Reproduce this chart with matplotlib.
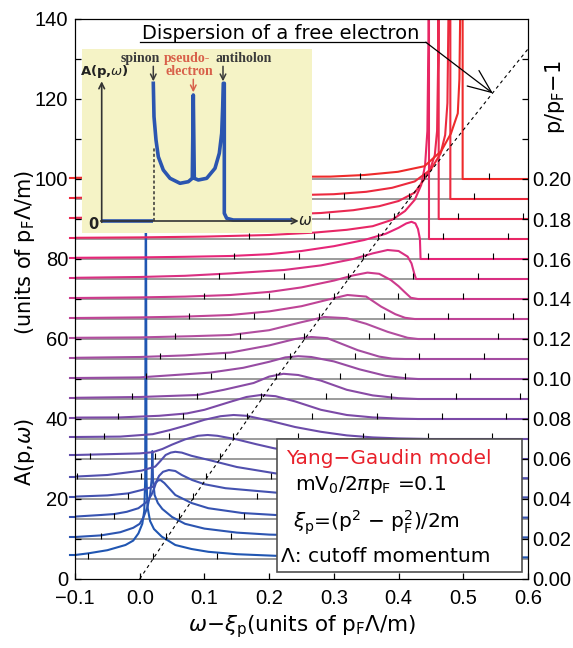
import matplotlib
matplotlib.use('Agg')
import matplotlib.pyplot as plt
import numpy as np
from matplotlib.colors import LinearSegmentedColormap
from matplotlib.patches import Rectangle

plt.rcParams['font.family'] = 'DejaVu Sans'
plt.rcParams['mathtext.fontset'] = 'dejavusans'

# p/pF - 1 of each curve and its vertical offset (A units)
delta = [0.01, 0.02, 0.03, 0.04, 0.05, 0.06, 0.07, 0.08, 0.09, 0.10,
         0.11, 0.12, 0.13, 0.14, 0.15, 0.16, 0.17, 0.18, 0.19, 0.20]
offset = [5, 10, 15, 20, 25, 30, 35, 40, 45, 50,
          55, 60, 65, 70, 75, 80, 85, 90, 95, 100]
# where the free-electron dispersion crosses each baseline
disp_x = [0.0201, 0.0404, 0.0609, 0.0816, 0.1025, 0.1236, 0.1449, 0.1664, 0.1881, 0.2100,
          0.2321, 0.2544, 0.2769, 0.2996, 0.3225, 0.3456, 0.3689, 0.3924, 0.4161, 0.4400]

# free electron dispersion (dashed)
free_x = [0.0, 0.1025, 0.21, 0.3225, 0.44, 0.5625, 0.60]
free_y = [0.0, 25.0, 50.0, 75.0, 100.0, 125.0, 132.5]

# spectral functions (x = w - xi_p, a = A above its baseline)
row01_x = [-0.1, -0.08, -0.05, -0.022, -0.01, -0.002, 0.004, 0.007, 0.0085, 0.0095, 0.0105, 0.012,
           0.016, 0.022, 0.034, 0.055, 0.08, 0.106, 0.15, 0.21, 0.3, 0.4, 0.5, 0.6]
row01_a = [1.0, 1.4, 2.2, 3.5, 4.6, 6.4, 8.8, 12, 20, 110, 20, 13,
           9.5, 7.5, 5.6, 3.5, 2.5, 1.8, 1.2, 0.8, 0.6, 0.5, 0.45, 0.4]
row02_x = [-0.1, -0.06, -0.03, -0.01, 0.0, 0.006, 0.012, 0.016, 0.0185, 0.0195, 0.0205, 0.023,
           0.028, 0.035, 0.05, 0.07, 0.1, 0.15, 0.2, 0.3, 0.45, 0.6]
row02_a = [0.5, 0.9, 1.7, 2.8, 3.8, 5.5, 8, 11, 15, 22, 15, 11,
           9, 7.5, 5.5, 3.8, 2.6, 1.6, 1.1, 0.7, 0.5, 0.4]
row03_x = [-0.1, -0.06, -0.039, -0.02, -0.002, 0.011, 0.018, 0.022, 0.025, 0.028, 0.032, 0.038,
           0.055, 0.08, 0.106, 0.158, 0.21, 0.3, 0.45, 0.6]
row03_a = [0.6, 1.0, 1.25, 1.8, 2.7, 4.3, 6.0, 7.5, 9.0, 9.6, 9.75, 9.0,
           6.0, 4.0, 2.7, 1.5, 1.0, 0.7, 0.45, 0.35]
row04_x = [-0.1, -0.05, -0.018, 0.003, 0.015, 0.021, 0.026, 0.03, 0.036, 0.045, 0.055, 0.065,
           0.081, 0.1, 0.1325, 0.21, 0.3, 0.45, 0.6]
row04_a = [0.6, 0.9, 1.4, 2.25, 2.8, 3.1, 4.5, 5.8, 6.8, 7.25, 7.0, 6.0,
           4.75, 3.7, 2.7, 1.6, 1.0, 0.6, 0.4]
row05_x = [-0.1, -0.05, 0.003, 0.024, 0.032, 0.04, 0.048, 0.055, 0.065, 0.08, 0.107, 0.15,
           0.21, 0.27, 0.35, 0.45, 0.6]
row05_a = [0.6, 1.0, 2.1, 3.1, 4.5, 6.0, 6.6, 6.8, 6.6, 5.8, 4.75, 3.0,
           1.4, 0.8, 0.5, 0.3, 0.2]
row06_x = [-0.1, -0.05, 0.0, 0.02, 0.035, 0.05, 0.07, 0.09, 0.105, 0.12, 0.15, 0.18,
           0.207, 0.25, 0.3, 0.35, 0.4, 0.5, 0.6]
row06_a = [1.0, 1.2, 1.4, 1.7, 2.5, 3.6, 4.9, 5.8, 6.0, 5.8, 4.9, 3.7,
           2.7, 1.5, 0.7, 0.3, 0.1, 0.0, 0.0]
row07_x = [-0.1, -0.03, 0.02, 0.047, 0.07, 0.1, 0.125, 0.145, 0.165, 0.2, 0.24, 0.28,
           0.32, 0.36, 0.4, 0.45, 0.6]
row07_a = [0.5, 0.6, 1.2, 2.25, 3.3, 4.8, 5.7, 6.0, 5.8, 4.6, 3.0, 1.8,
           0.9, 0.4, 0.15, 0.0, 0.0]
row08_x = [-0.1, -0.03, 0.03, 0.073, 0.1, 0.14, 0.165, 0.187, 0.21, 0.24, 0.28, 0.32,
           0.36, 0.4, 0.43, 0.6]
row08_a = [0.35, 0.4, 0.8, 1.4, 2.3, 4.3, 5.5, 6.0, 5.7, 4.4, 2.3, 1.0,
           0.4, 0.1, 0.0, 0.0]
row09_x = [-0.1, 0.0, 0.089, 0.13, 0.176, 0.2, 0.222, 0.245, 0.28, 0.32, 0.36, 0.4, 0.43, 0.6]
row09_a = [0.3, 0.5, 1.0, 2.3, 4.0, 5.6, 6.3, 6.0, 4.6, 2.3, 0.9, 0.2, 0.0, 0.0]
row10_x = [-0.1, 0.0, 0.109, 0.16, 0.2, 0.225, 0.245, 0.265, 0.3, 0.34, 0.38, 0.41, 0.43, 0.6]
row10_a = [0.25, 0.4, 1.6, 2.8, 4.3, 5.4, 5.7, 5.5, 4.4, 2.4, 0.8, 0.2, 0.0, 0.0]
row11_x = [-0.1, 0.0, 0.07, 0.14, 0.2, 0.24, 0.265, 0.29, 0.337, 0.37, 0.39, 0.41, 0.6]
row11_a = [0.3, 0.5, 0.9, 1.6, 3.4, 5.0, 5.5, 5.2, 2.2, 0.6, 0.1, 0.0, 0.0]
row12_x = [-0.1, 0.0, 0.08, 0.14, 0.2, 0.25, 0.285, 0.32, 0.35, 0.383, 0.414, 0.43, 0.6]
row12_a = [0.3, 0.4, 0.7, 1.0, 2.2, 4.2, 5.5, 5.2, 3.8, 1.8, 0.3, 0.0, 0.0]
row13_x = [-0.1, 0.0, 0.07, 0.14, 0.2, 0.25, 0.29, 0.321, 0.35, 0.373, 0.395, 0.41, 0.425, 0.6]
row13_a = [0.25, 0.4, 0.6, 1.0, 1.9, 3.2, 4.8, 6.0, 5.6, 3.1, 1.2, 0.3, 0.0, 0.0]
row14_x = [-0.1, 0.0, 0.07, 0.14, 0.202, 0.25, 0.3, 0.33, 0.352, 0.37, 0.388, 0.4, 0.409, 0.419,
           0.43, 0.6]
row14_a = [0.25, 0.4, 0.6, 1.0, 1.8, 2.9, 4.6, 5.9, 6.6, 6.3, 4.75, 3.2, 1.8, 0.3,
           0.0, 0.0]
row15_x = [-0.1, 0.0, 0.07, 0.14, 0.223, 0.28, 0.33, 0.36, 0.383, 0.4, 0.414, 0.42, 0.424, 0.427,
           0.6]
row15_a = [0.3, 0.5, 0.8, 1.4, 2.25, 3.4, 5.0, 6.4, 7.25, 7.0, 5.6, 3.9, 1.5, 0.0,
           0.0]
row16_x = [-0.1, 0.0, 0.07, 0.14, 0.2, 0.25, 0.3, 0.347, 0.38, 0.4, 0.412, 0.42, 0.426, 0.43,
           0.433, 0.434, 0.6]
row16_a = [0.3, 0.4, 0.55, 0.75, 1.2, 2.0, 3.2, 4.75, 6.3, 7.8, 8.9, 9.3, 8.9, 7.5,
           5.0, 0.0, 0.0]
row17_x = [-0.1, 0.0, 0.1, 0.2, 0.27, 0.32, 0.36, 0.39, 0.41, 0.425, 0.435, 0.441, 0.4445, 0.4462,
           0.447, 0.447, 0.6]
row17_a = [0.3, 0.4, 0.6, 1.0, 1.6, 2.3, 3.2, 4.8, 7.0, 9.8, 13.5, 18.5, 27, 50,
           200, 0.0, 0.0]
row18_x = [-0.1, 0.0, 0.1, 0.2, 0.28, 0.33, 0.37, 0.4, 0.425, 0.44, 0.45, 0.456, 0.4595, 0.4612,
           0.462, 0.462, 0.6]
row18_a = [0.3, 0.4, 0.6, 1.0, 1.5, 2.2, 3.2, 4.5, 6.6, 10.0, 13.0, 16, 22, 40,
           200, 0.0, 0.0]
row19_x = [-0.1, 0.0, 0.1, 0.2, 0.3, 0.35, 0.39, 0.425, 0.45, 0.465, 0.472, 0.4755, 0.477, 0.478,
           0.48, 0.48, 0.6]
row19_a = [0.3, 0.4, 0.5, 0.8, 1.2, 1.8, 2.8, 4.4, 7.4, 11.4, 16, 24, 45, 200,
           200, 0.0, 0.0]
row20_x = [-0.1, 0.0, 0.1, 0.2, 0.295, 0.347, 0.399, 0.44, 0.466, 0.481, 0.4915, 0.494, 0.4955,
           0.4965, 0.499, 0.499, 0.6]
row20_a = [0.3, 0.35, 0.45, 0.55, 0.6, 1.0, 1.8, 3.2, 7.0, 11.4, 16.4, 25, 45,
           200, 200, 0.0, 0.0]

rows = [(row01_x, row01_a), (row02_x, row02_a), (row03_x, row03_a), (row04_x, row04_a),
        (row05_x, row05_a), (row06_x, row06_a), (row07_x, row07_a), (row08_x, row08_a),
        (row09_x, row09_a), (row10_x, row10_a), (row11_x, row11_a), (row12_x, row12_a),
        (row13_x, row13_a), (row14_x, row14_a), (row15_x, row15_a), (row16_x, row16_a),
        (row17_x, row17_a), (row18_x, row18_a), (row19_x, row19_a), (row20_x, row20_a)]

# schematic in the inset (arbitrary units)
ins_flat_x = [20, 71.6]
ins_flat_y = [12.3, 12.3]
ins_curve_x = [71.6, 72.3, 74.3, 76.6, 81.6, 88.3, 98.3, 106.6, 110.6, 111.6, 112.6, 116.6,
               125, 133.3, 137.6, 140, 141, 141.6, 142.6, 142.6, 145, 151.6, 208.3]
ins_curve_y = [150, 116.6, 93.3, 76.6, 63.3, 55, 50, 51.6, 55, 138.3, 55, 53.3,
               55, 65, 80, 100, 126.6, 150, 150, 20, 15, 13.3, 13.3]

right_ticks = [0.00, 0.02, 0.04, 0.06, 0.08, 0.10, 0.12, 0.14, 0.16, 0.18, 0.20, 0.22, 0.24, 0.26]

W, H = 573, 648
fig = plt.figure(figsize=(W / 100, H / 100), dpi=100)
ax = fig.add_axes([75 / W, 69 / H, 453 / W, 560 / H])
ax.set_xlim(-0.1, 0.6)
ax.set_ylim(0, 140)

cmap = LinearSegmentedColormap.from_list(
    'rows', [(0, '#2056b2'), (3 / 19, '#4452b0'), (7 / 19, '#7c4aa7'),
             (11 / 19, '#b24e9f'), (15 / 19, '#e62679'), (1, '#ee2b2b')])

ax.hlines(offset, -0.1, 0.6, color='#8a8a8a', lw=1.2, zorder=1)
for i, (xs, amp) in enumerate(rows):
    col = cmap(i / 19)
    ax.plot(xs, offset[i] + np.array(amp), color=col, lw=1.5, zorder=2,
            solid_joinstyle='round')
    # the curves stick out a little past the left frame
    ax.plot([-0.108, -0.1], [offset[i] + amp[0]] * 2, color=col, lw=1.5,
            clip_on=False, zorder=2)
    marks = [disp_x[i] + 0.1 * n for n in range(-2, 6)]
    marks = [m for m in marks if -0.1 < m < 0.6]
    ax.vlines(marks, offset[i], offset[i] + 1.6, color='k', lw=0.8, zorder=3)

ax.plot(free_x, free_y, color='k', lw=0.8, dashes=(3, 3), zorder=3)

# label for the dispersion
ax.text(0.0034, 136.3, 'Dispersion of a free electron', fontsize=14, va='center', ha='left')
ax.plot([0.001, 0.442], [134.2, 134.2], color='k', lw=0.9, zorder=4)
ax.annotate('', xy=(0.5458, 121.4), xytext=(0.442, 134.2),
            arrowprops=dict(arrowstyle='->,head_length=1.2,head_width=0.5',
                            lw=0.9, color='k', mutation_scale=14, shrinkA=0, shrinkB=0))

# model box
ax.add_patch(Rectangle((0.2115, 1.8), 0.3792, 33.1, facecolor='white', edgecolor='#505050',
                       lw=1.2, zorder=5))
ax.text(0.2255, 30.2, 'Yang\u2212Gaudin model', color='#e8202a', fontsize=14.5, va='center', zorder=6)
ax.text(0.2394, 23.4, r'mV$_\mathregular{0}$/2$\pi$p$_\mathregular{F}$ =0.1', fontsize=14.5,
        va='center', zorder=6)
ax.text(0.2374, 14.0, r'$\xi_\mathregular{p}$=(p$^\mathregular{2}$ $-$ p$_\mathregular{F}^\mathregular{2}$)/2m',
        fontsize=14.5, va='center', zorder=6)
ax.text(0.2177, 5.6, '\u039b: cutoff momentum', fontsize=14.5, va='center', zorder=6)

ax.set_xticks([-0.1, 0.0, 0.1, 0.2, 0.3, 0.4, 0.5, 0.6])
ax.set_xticklabels(['\u22120.1', '0.0', '0.1', '0.2', '0.3', '0.4', '0.5', '0.6'])
ax.set_yticks([0, 20, 40, 60, 80, 100, 120, 140])
ax.set_yticks([10, 30, 50, 70, 90, 110, 130], minor=True)
ax.tick_params(axis='both', which='both', direction='in', length=4, width=0.9,
               labelsize=14.5)
ax.tick_params(axis='x', pad=7)
ax.tick_params(axis='y', pad=5)
for lab in ax.get_xticklabels() + ax.get_yticklabels():
    lab.set_family('Liberation Sans')

ax2 = ax.twinx()
ax2.set_ylim(0, 0.28)
ax2.set_yticks(right_ticks)
ax2.set_yticklabels([f'{v:.2f}' if v <= 0.2 + 1e-9 else '' for v in right_ticks])
ax2.tick_params(axis='y', direction='in', length=4, width=0.9, labelsize=14.5, pad=3)
for lab in ax2.get_yticklabels():
    lab.set_family('Liberation Sans')

fig.text(302 / W, 1 - 627 / H, r'$\omega$$-$$\xi_\mathregular{p}$(units of p$_\mathregular{F}$$\Lambda$/m)',
         fontsize=15.5, ha='center', va='center')
fig.text(25 / W, 1 - 452 / H, r'A(p,$\omega$)', fontsize=15, ha='center', va='center',
         rotation=90)
fig.text(25 / W, 1 - 252 / H, r'(units of p$_\mathregular{F}$$\Lambda$/m)', fontsize=15,
         ha='center', va='center', rotation=90)
fig.text(555 / W, 1 - 97 / H, r'p/p$_\mathregular{F}$$-$1', fontsize=15, ha='center',
         va='center', rotation=90)

# inset schematic
ins = fig.add_axes([81.7 / W, 1 - 233.3 / H, 230 / W, 184 / H])
ins.set_facecolor('#f5f3c6')
ins.set_xlim(0, 230)
ins.set_ylim(0, 184)
ins.set_xticks([])
ins.set_yticks([])
for s in ins.spines.values():
    s.set_visible(False)
ins.annotate('', xy=(20, 152), xytext=(20, 11),
             arrowprops=dict(arrowstyle='->', color='#333333', lw=1.2, shrinkA=0, shrinkB=0))
ins.annotate('', xy=(217, 12.3), xytext=(19, 12.3),
             arrowprops=dict(arrowstyle='->', color='#333333', lw=1.2, shrinkA=0, shrinkB=0))
ins.plot([72.0, 72.0], [12.3, 86], color='#333333', lw=1.1, dashes=(2, 1.5))
ins.plot(ins_flat_x, ins_flat_y, color='#2b55b0', lw=2.6, solid_capstyle='butt')
ins.plot(ins_curve_x, ins_curve_y, color='#2b55b0', lw=2.6, solid_joinstyle='round')
ins.text(11.6, 9, '0', fontsize=10.5, fontweight='bold', ha='center', va='center', color='#222222')
ins.text(23, 162, r'A(p,$\omega$)', fontsize=9.5, fontweight='bold', ha='center', va='center',
         color='#222222')
ins.text(223, 11.5, r'$\omega$', fontsize=11, ha='center', va='center', color='#222222',
         family='Liberation Serif')
ins.text(58.3, 175, 'spinon', fontsize=10, fontweight='bold', ha='center', va='center',
         color='#3a3a3a', family='Liberation Serif')
ins.text(105.6, 175, 'pseudo-', fontsize=10, fontweight='bold', ha='center', va='center',
         color='#d8604a', family='Liberation Serif')
ins.text(107.6, 161.6, 'electron', fontsize=10, fontweight='bold', ha='center', va='center',
         color='#d8604a', family='Liberation Serif')
ins.text(162.3, 175, 'antiholon', fontsize=10, fontweight='bold', ha='center', va='center',
         color='#3a3a3a', family='Liberation Serif')
for xa, y0, y1, col in [(71.6, 167, 152, '#3a3a3a'), (111.6, 154, 141, '#d8604a'),
                        (141.3, 167, 152, '#3a3a3a')]:
    ins.annotate('', xy=(xa, y1), xytext=(xa, y0),
                 arrowprops=dict(arrowstyle='->', color=col, lw=1.1, shrinkA=0, shrinkB=0))

fig.savefig('out.png', dpi=100)
